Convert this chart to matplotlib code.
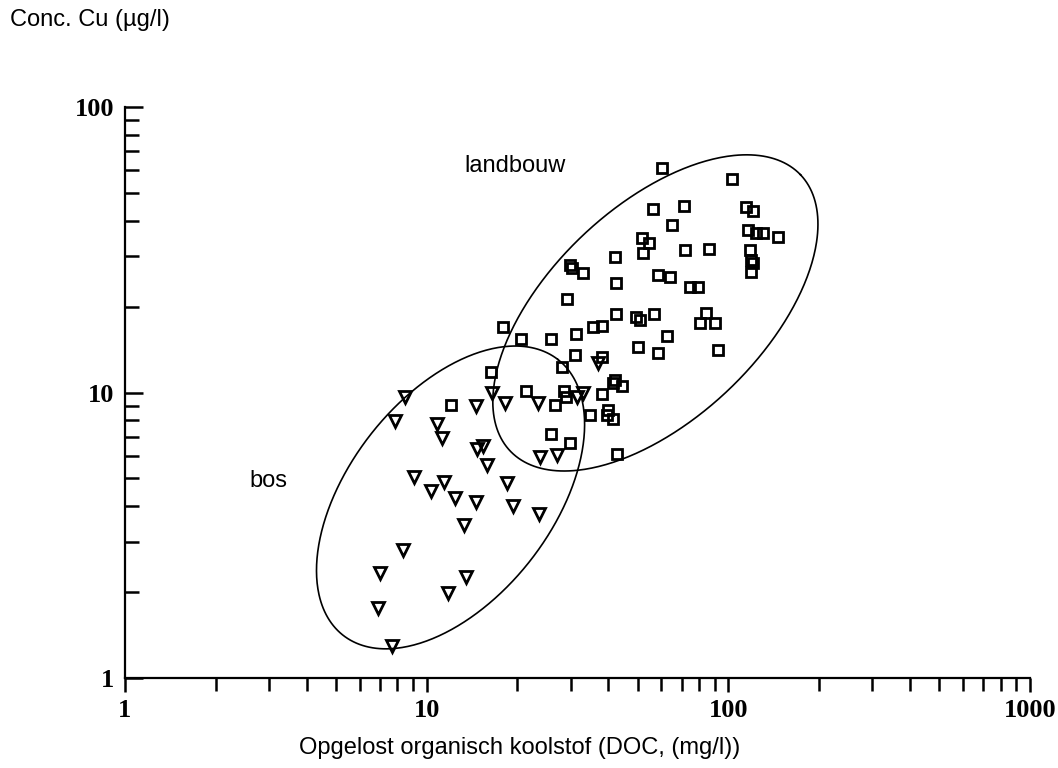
#!/usr/bin/env python3

import numpy as np
import matplotlib

matplotlib.use("Agg")
import matplotlib.pyplot as plt
from matplotlib.ticker import LogLocator, NullFormatter

# Cu concentration versus dissolved organic carbon, agricultural sites (squares)
landbouw_doc = [
    60.3, 102.8, 56.2, 71.3, 114.4, 120.7, 65.0, 116.1, 123.5, 130.2, 146.0,
    117.9, 118.8, 120.6, 118.8, 51.7, 54.6, 52.1, 71.8, 86.2, 42.1, 29.9,
    30.3, 33.0, 58.4, 64.0, 42.4, 74.6, 79.3, 29.2, 42.4, 49.4, 50.9, 56.7,
    84.3, 80.5, 90.3, 17.9, 20.5, 25.8, 31.3, 35.6, 38.1, 62.6, 92.4, 50.2,
    58.4, 31.0, 38.1, 16.3, 28.1, 42.1, 41.5, 44.4, 21.3, 28.5, 28.9, 38.1,
    12.0, 26.6, 34.8, 39.9, 39.6, 41.5, 25.8, 29.9, 42.7,
]
landbouw_cu = [
    61.1, 56.0, 43.9, 45.0, 44.6, 43.2, 38.6, 37.1, 36.2, 36.2, 35.1,
    31.6, 29.1, 28.4, 26.4, 34.8, 33.4, 30.8, 31.6, 31.8, 29.8, 28.0,
    27.3, 26.2, 25.8, 25.4, 24.2, 23.4, 23.4, 21.3, 18.8, 18.4, 17.9, 18.8,
    19.0, 17.5, 17.5, 17.0, 15.4, 15.4, 16.0, 17.0, 17.1, 15.8, 14.1, 14.4,
    13.7, 13.5, 13.3, 11.8, 12.3, 11.1, 10.8, 10.5, 10.1, 10.1, 9.64, 9.88,
    9.04, 9.04, 8.34, 8.68, 8.34, 8.08, 7.16, 6.65, 6.09,
]

# forest sites (triangles)
bos_doc = [
    8.47, 7.85, 14.6, 16.5, 18.2, 23.4, 10.8, 11.2, 14.7, 15.4, 15.8, 23.7,
    27.0, 9.08, 10.3, 11.4, 12.4, 14.6, 18.5, 19.3, 23.6, 13.3, 8.35, 7.00,
    13.5, 11.8, 6.90, 7.67, 31.5, 33.0, 37.0,
]
bos_cu = [
    9.64, 7.95, 8.97, 9.96, 9.19, 9.19, 7.76, 6.93, 6.34, 6.50, 5.57, 5.94,
    6.04, 5.06, 4.52, 4.86, 4.27, 4.14, 4.82, 4.00, 3.75, 3.44, 2.81, 2.33,
    2.26, 1.99, 1.76, 1.29, 9.64, 9.96, 12.7,
]

# enclosing ellipses in log10 space: centre, major and minor half-axis vectors (decades)
landbouw_ellipse = dict(centre=(57.3, 19.0), major=(0.481, 0.484), minor=(-0.243, 0.269))
bos_ellipse = dict(centre=(12.0, 4.29), major=(0.356, 0.483), minor=(-0.266, 0.219))

x_ticks = [1, 10, 100, 1000]
y_ticks = [1, 10, 100]

plt.rcParams["font.family"] = ["Liberation Sans", "DejaVu Sans"]


def ellipse_curve(centre, major, minor, n=400):
    t = np.linspace(0, 2 * np.pi, n)
    lx = np.log10(centre[0]) + major[0] * np.cos(t) + minor[0] * np.sin(t)
    ly = np.log10(centre[1]) + major[1] * np.cos(t) + minor[1] * np.sin(t)
    return 10 ** lx, 10 ** ly


fig = plt.figure(figsize=(10.58, 7.68), dpi=100)
ax = fig.add_axes([125 / 1058, 90 / 768, 905 / 1058, 571 / 768])
ax.set_xscale("log")
ax.set_yscale("log")
ax.set_xlim(1, 1000)
ax.set_ylim(1, 100)

for ell in (landbouw_ellipse, bos_ellipse):
    ex, ey = ellipse_curve(**ell)
    ax.plot(ex, ey, color="black", lw=1.2, zorder=2)

ax.plot(landbouw_doc, landbouw_cu, ls="none", marker="s", ms=7.5,
        mfc="none", mec="black", mew=2.0, zorder=3)
ax.plot(bos_doc, bos_cu, ls="none", marker="v", ms=8.5,
        mfc="none", mec="black", mew=2.0, zorder=3)

ax.text(19.6, 62.1, "landbouw", fontsize=17, ha="center", va="center")
ax.text(2.98, 4.90, "bos", fontsize=17, ha="center", va="center")

for side in ("top", "right"):
    ax.spines[side].set_visible(False)
for side in ("left", "bottom"):
    ax.spines[side].set_linewidth(1.6)

tick_font = dict(family="Liberation Serif", size=19, weight="bold")
ax.set_xticks(x_ticks, labels=[str(v) for v in x_ticks])
ax.set_yticks(y_ticks, labels=[str(v) for v in y_ticks])
for lab in ax.get_xticklabels() + ax.get_yticklabels():
    lab.set_fontproperties(tick_font)
ax.xaxis.set_minor_locator(LogLocator(base=10, subs=np.arange(2, 10)))
ax.yaxis.set_minor_locator(LogLocator(base=10, subs=np.arange(2, 10)))
ax.xaxis.set_minor_formatter(NullFormatter())
ax.yaxis.set_minor_formatter(NullFormatter())

ax.tick_params(axis="x", which="major", direction="out", length=10, width=1.8, pad=5)
ax.tick_params(axis="x", which="minor", direction="out", length=9, width=1.8)
ax.tick_params(axis="y", which="major", direction="in", length=13, width=1.8, pad=8)
ax.tick_params(axis="y", which="minor", direction="in", length=10, width=1.8)

fig.text(10 / 1058, 1 - 20 / 768, "Conc. Cu (\u00b5g/l)", fontsize=17,
         ha="left", va="center")
fig.text(520 / 1058, 1 - 748 / 768, "Opgelost organisch koolstof (DOC, (mg/l))",
         fontsize=17, ha="center", va="center")

fig.savefig("out.png", dpi=100)
